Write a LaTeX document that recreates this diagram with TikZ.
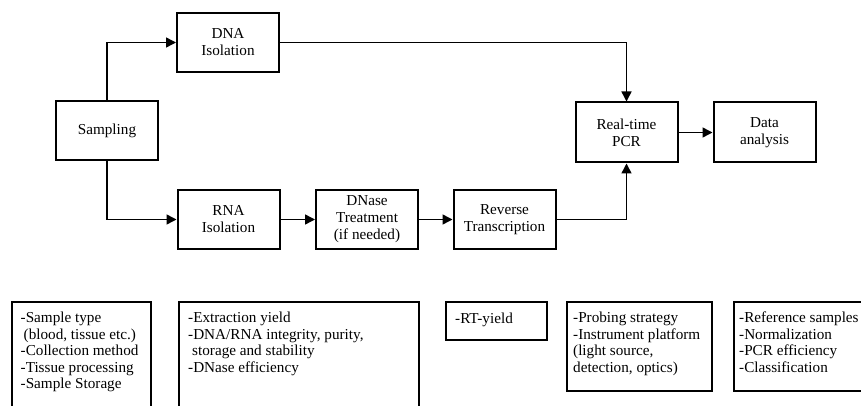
\documentclass[tikz,border=0pt]{standalone}
\usepackage{fontspec}
\setmainfont{Liberation Serif}
\usetikzlibrary{arrows.meta}
\begin{document}
\begin{tikzpicture}[x=1pt,y=-1pt,
  stepbox/.style={draw, line width=2pt, minimum width=102pt, minimum height=59pt, inner sep=0pt, align=center, font=\fontsize{15.2}{17}\selectfont},
  notebox/.style={draw, line width=2pt, anchor=north west, inner sep=0pt},
  notetext/.style={anchor=north west, inner sep=0pt, align=left, font=\fontsize{15.2}{16.5}\selectfont},
  conn/.style={line width=1.5pt, -{Triangle[length=10pt,width=10pt]}}]
\clip (0,0) rectangle (861,406);
\fill[white] (0,0) rectangle (861,406);
% process boxes
\node[stepbox] (samp) at (107,131) {Sampling};
\node[stepbox] (dna) at (228,42.5) {DNA\\Isolation};
\node[stepbox] (rna) at (228.5,219.5) {RNA\\Isolation};
\node[stepbox] (dnase) at (367,219.5) {DNase\\Treatment\\(if needed)};
\node[stepbox] (rt) at (504.5,219.5) {Reverse\\Transcription};
\node[stepbox, minimum height=60pt] (pcr) at (626.5,132.5) {Real-time\\PCR};
\node[stepbox, minimum height=60pt] (data) at (764.5,132.5) {Data\\analysis};
% connectors
\draw[conn] (samp.north) |- (dna.west);
\draw[conn] (samp.south) |- (rna.west);
\draw[conn] (dna.east) -| (pcr.north);
\draw[conn] (rna.east) -- (dnase.west);
\draw[conn] (dnase.east) -- (rt.west);
\draw[conn] (rt.east) -| (pcr.south);
\draw[conn] (pcr.east) -- (data.west);
% note boxes
\node[notebox, minimum width=139.5pt, minimum height=120pt] (b1) at (10.5,301) {};
\node[notebox, minimum width=240pt, minimum height=120pt] (b2) at (178,301) {};
\node[notebox, minimum width=101pt, minimum height=38pt] (b3) at (445,301) {};
\node[notebox, minimum width=145pt, minimum height=89pt] (b4) at (566,301) {};
\node[notebox, minimum width=150pt, minimum height=89pt] (b5) at (733,301) {};
\node[notetext] (t1) at (20.5,312) {-Sample type\\\hspace*{3pt}(blood, tissue etc.)\\-Collection method\\-Tissue processing\\-Sample Storage};
\node[notetext] (t2) at (188,312) {-Extraction yield\\-DNA/RNA integrity, purity,\\\hspace*{4pt}storage and stability\\-DNase efficiency};
\node[notetext] (t3) at (455,313) {-RT-yield};
\node[notetext] (t4) at (573,312) {-Probing strategy\\-Instrument platform\\(light source,\\detection, optics)};
\node[notetext] (t5) at (739,312) {-Reference samples\\-Normalization\\-PCR efficiency\\-Classification};
\end{tikzpicture}
\end{document}
